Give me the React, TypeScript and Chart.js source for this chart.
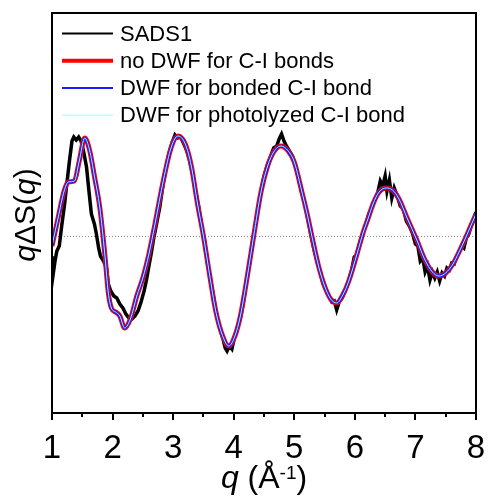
import React, { useEffect, useRef } from 'react';
import { Chart, registerables } from 'chart.js';

Chart.register(...registerables);

const xTickValues = [1, 2, 3, 4, 5, 6, 7, 8];

const legendLabels = [
  'SADS1',
  'no DWF for C-I bonds',
  'DWF for bonded C-I bond',
  'DWF for photolyzed C-I bond',
];

// Measured SADS1 (noisy)
const sadsQ = [
  1.00, 1.02, 1.05, 1.08, 1.12, 1.16, 1.21, 1.25, 1.29, 1.33, 1.36, 1.40, 1.44, 1.48, 1.52, 1.57,
  1.61, 1.65, 1.70, 1.73, 1.77, 1.80, 1.85, 1.90, 1.93, 1.97, 2.02, 2.07, 2.12, 2.17, 2.22, 2.27,
  2.32, 2.37, 2.42, 2.47, 2.52, 2.56, 2.60, 2.64, 2.68, 2.72, 2.78, 2.83, 2.88, 2.93, 2.98, 3.03,
  3.07, 3.12, 3.17, 3.22, 3.27, 3.32, 3.37, 3.42, 3.47, 3.52, 3.57, 3.62, 3.67, 3.72, 3.77, 3.82,
  3.86, 3.89, 3.93, 3.97, 4.01, 4.06, 4.11, 4.16, 4.21, 4.26, 4.31, 4.36, 4.41, 4.46, 4.51, 4.56,
  4.61, 4.66, 4.71, 4.75, 4.79, 4.83, 4.87, 4.92, 4.97, 5.02, 5.07, 5.12, 5.17, 5.22, 5.27, 5.32,
  5.37, 5.42, 5.47, 5.52, 5.57, 5.62, 5.66, 5.70, 5.74, 5.79, 5.84, 5.89, 5.94, 5.99, 6.03, 6.08,
  6.13, 6.18, 6.23, 6.28, 6.33, 6.38, 6.42, 6.46, 6.50, 6.53, 6.57, 6.61, 6.65, 6.70, 6.75, 6.80,
  6.85, 6.90, 6.95, 7.00, 7.04, 7.08, 7.12, 7.16, 7.20, 7.24, 7.28, 7.32, 7.36, 7.40, 7.44, 7.48,
  7.52, 7.56, 7.60, 7.64, 7.68, 7.72, 7.76, 7.80, 7.84, 7.88, 7.92, 7.96, 8.00,
];
const sadsVal = [
  -0.20, -0.38, -0.25, -0.15, -0.10, 0.10, 0.33, 0.55, 0.76, 0.95, 0.99, 0.96, 0.99, 0.95, 0.85, 0.69,
  0.45, 0.22, 0.12, 0.03, -0.12, -0.20, -0.25, -0.32, -0.48, -0.55, -0.60, -0.62, -0.68, -0.72, -0.78, -0.82,
  -0.83, -0.80, -0.75, -0.66, -0.55, -0.44, -0.30, -0.17, -0.02, 0.10, 0.29, 0.50, 0.68, 0.82, 0.93, 1.01,
  0.98, 0.99, 0.93, 0.86, 0.76, 0.62, 0.45, 0.30, 0.10, -0.05, -0.28, -0.45, -0.62, -0.80, -0.92, -1.02,
  -1.12, -1.15, -1.10, -1.13, -1.02, -0.92, -0.82, -0.66, -0.45, -0.28, -0.06, 0.12, 0.30, 0.48, 0.62, 0.72,
  0.80, 0.88, 0.90, 0.97, 1.02, 0.95, 0.90, 0.85, 0.80, 0.70, 0.58, 0.44, 0.34, 0.18, 0.02, -0.12,
  -0.24, -0.34, -0.47, -0.54, -0.60, -0.66, -0.65, -0.74, -0.66, -0.62, -0.55, -0.46, -0.36, -0.21, -0.19, -0.07,
  0.02, 0.12, 0.22, 0.28, 0.36, 0.44, 0.55, 0.50, 0.60, 0.45, 0.56, 0.38, 0.48, 0.40, 0.30, 0.27,
  0.15, 0.10, 0.03, -0.08, -0.10, -0.25, -0.22, -0.36, -0.30, -0.44, -0.36, -0.42, -0.36, -0.45, -0.37, -0.40,
  -0.32, -0.34, -0.27, -0.28, -0.20, -0.17, -0.10, -0.12, -0.02, 0.02, 0.10, 0.16, 0.24,
];

// Fits
const fitQ = [
  1.00, 1.10, 1.20, 1.27, 1.37, 1.45, 1.54, 1.62, 1.70, 1.79, 1.87, 1.93, 1.98, 2.05, 2.12, 2.20,
  2.30, 2.40, 2.50, 2.60, 2.70, 2.84, 2.97, 3.08, 3.20, 3.30, 3.40, 3.50, 3.60, 3.70, 3.80, 3.92,
  4.02, 4.11, 4.22, 4.33, 4.45, 4.56, 4.66, 4.78, 4.90, 5.00, 5.13, 5.22, 5.29, 5.40, 5.50, 5.60,
  5.70, 5.80, 5.90, 6.04, 6.14, 6.21, 6.30, 6.40, 6.52, 6.62, 6.72, 6.87, 7.03, 7.15, 7.28, 7.39,
  7.50, 7.62, 7.72, 7.82, 7.92, 8.00,
];
const noDwfVal = [
  -0.10, 0.18, 0.45, 0.54, 0.55, 0.75, 0.98, 0.86, 0.60, 0.28, -0.17, -0.57, -0.72, -0.76, -0.80, -0.92,
  -0.82, -0.60, -0.42, -0.18, 0.12, 0.56, 0.89, 1.00, 0.92, 0.70, 0.33, 0.00, -0.38, -0.74, -0.97, -1.10,
  -1.00, -0.80, -0.42, 0.00, 0.44, 0.70, 0.84, 0.90, 0.85, 0.74, 0.43, 0.20, 0.00, -0.30, -0.50, -0.63,
  -0.67, -0.59, -0.45, -0.17, 0.04, 0.16, 0.32, 0.44, 0.48, 0.46, 0.38, 0.17, -0.05, -0.23, -0.36, -0.40,
  -0.37, -0.28, -0.16, -0.03, 0.11, 0.22,
];
const bondedVal = [
  -0.10, 0.18, 0.45, 0.54, 0.55, 0.75, 0.98, 0.86, 0.60, 0.28, -0.17, -0.57, -0.72, -0.76, -0.80, -0.92,
  -0.82, -0.60, -0.42, -0.18, 0.12, 0.56, 0.89, 1.00, 0.92, 0.70, 0.33, 0.00, -0.38, -0.74, -0.97, -1.10,
  -1.00, -0.80, -0.42, 0.00, 0.44, 0.70, 0.84, 0.90, 0.85, 0.74, 0.43, 0.20, 0.00, -0.30, -0.50, -0.63,
  -0.67, -0.59, -0.45, -0.17, 0.04, 0.16, 0.32, 0.44, 0.48, 0.46, 0.38, 0.17, -0.05, -0.23, -0.36, -0.40,
  -0.37, -0.28, -0.16, -0.03, 0.11, 0.22,
];
const photolyzedVal = [
  -0.10, 0.18, 0.45, 0.54, 0.55, 0.75, 0.98, 0.86, 0.60, 0.28, -0.17, -0.57, -0.72, -0.76, -0.80, -0.92,
  -0.82, -0.60, -0.42, -0.18, 0.12, 0.56, 0.89, 1.00, 0.92, 0.70, 0.33, 0.00, -0.38, -0.74, -0.97, -1.10,
  -1.00, -0.80, -0.42, 0.00, 0.44, 0.70, 0.84, 0.90, 0.85, 0.74, 0.43, 0.20, 0.00, -0.30, -0.50, -0.63,
  -0.67, -0.59, -0.45, -0.17, 0.04, 0.16, 0.32, 0.44, 0.48, 0.46, 0.38, 0.17, -0.05, -0.23, -0.36, -0.40,
  -0.37, -0.28, -0.16, -0.03, 0.11, 0.22,
];

const FONT = '"Liberation Sans", Arial, Helvetica, sans-serif';

const pairs = (xs: number[], ys: number[]) => xs.map((x, i) => ({ x, y: ys[i] }));

const decorPlugin = {
  id: 'decor',
  beforeDatasetsDraw(chart: any) {
    const { ctx, chartArea: a, scales } = chart;
    const y0 = scales.y.getPixelForValue(0);
    ctx.save();
    ctx.strokeStyle = '#8c8c8c';
    ctx.lineWidth = 1;
    ctx.setLineDash([1, 2]);
    ctx.beginPath();
    ctx.moveTo(a.left, y0 + 0.5);
    ctx.lineTo(a.right, y0 + 0.5);
    ctx.stroke();
    ctx.restore();
  },
  afterDraw(chart: any) {
    const { ctx, chartArea: a, scales } = chart;
    ctx.save();
    // frame
    ctx.strokeStyle = '#000';
    ctx.lineWidth = 2;
    ctx.strokeRect(a.left, a.top, a.right - a.left, a.bottom - a.top);
    // x ticks (major + minor), outward
    const xs = scales.x;
    for (let v = xs.min; v <= xs.max + 1e-9; v += 0.5) {
      const px = Math.round(xs.getPixelForValue(v));
      const major = Math.abs(v - Math.round(v)) < 1e-6;
      ctx.beginPath();
      ctx.moveTo(px, a.bottom);
      ctx.lineTo(px, a.bottom + (major ? 7 : 4));
      ctx.stroke();
    }
    // legend
    const ds = chart.data.datasets;
    const legendWidths = [2, 4, 2, 1];
    ctx.font = `22px ${FONT}`;
    ctx.textBaseline = 'middle';
    ctx.textAlign = 'left';
    ds.forEach((d: any, i: number) => {
      const yy = 33.5 + i * 27.2;
      ctx.strokeStyle = d.borderColor;
      ctx.lineWidth = legendWidths[i];
      ctx.beginPath();
      ctx.moveTo(62, yy);
      ctx.lineTo(113, yy);
      ctx.stroke();
      ctx.fillStyle = '#000';
      ctx.fillText(d.label, 120, yy + 1);
    });
    // x title: q (Å^-1)
    ctx.fillStyle = '#000';
    ctx.textBaseline = 'alphabetic';
    const big = 32;
    const sup = 19;
    const parts: [string, string, number][] = [
      ['q', `italic ${big}px ${FONT}`, 0],
      [' (Å', `${big}px ${FONT}`, 0],
      ['-1', `${sup}px ${FONT}`, -9],
      [')', `${big}px ${FONT}`, 0],
    ];
    let total = 0;
    parts.forEach(([t, f]) => { ctx.font = f; total += ctx.measureText(t).width; });
    let x = (a.left + a.right) / 2 - total / 2;
    const base = 488;
    parts.forEach(([t, f, dy]) => {
      ctx.font = f;
      ctx.fillText(t, x, base + dy);
      x += ctx.measureText(t).width;
    });
    // y title: qΔS(q)
    const yParts: [string, string][] = [
      ['q', `italic 30px ${FONT}`],
      ['ΔS(', `30px ${FONT}`],
      ['q', `italic 30px ${FONT}`],
      [')', `30px ${FONT}`],
    ];
    let ytot = 0;
    yParts.forEach(([t, f]) => { ctx.font = f; ytot += ctx.measureText(t).width; });
    ctx.translate(35, 215);
    ctx.rotate(-Math.PI / 2);
    let yx = -ytot / 2;
    yParts.forEach(([t, f]) => {
      ctx.font = f;
      ctx.fillText(t, yx, 0);
      yx += ctx.measureText(t).width;
    });
    ctx.restore();
  },
};

export default function App() {
  const canvasRef = useRef<HTMLCanvasElement | null>(null);

  useEffect(() => {
    if (!canvasRef.current) return;
    const chart = new Chart(canvasRef.current, {
      type: 'line',
      data: {
        datasets: [
          {
            label: legendLabels[0],
            data: pairs(sadsQ, sadsVal),
            borderColor: '#000000',
            borderWidth: 3.5,
            pointRadius: 0,
            tension: 0,
            order: 4,
          },
          {
            label: legendLabels[1],
            data: pairs(fitQ, noDwfVal),
            borderColor: '#ff0000',
            borderWidth: 5,
            pointRadius: 0,
            cubicInterpolationMode: 'monotone',
            order: 3,
          },
          {
            label: legendLabels[2],
            data: pairs(fitQ, bondedVal),
            borderColor: '#1a1aff',
            borderWidth: 3,
            pointRadius: 0,
            cubicInterpolationMode: 'monotone',
            order: 2,
          },
          {
            label: legendLabels[3],
            data: pairs(fitQ, photolyzedVal),
            borderColor: '#a8f4f4',
            borderWidth: 1,
            pointRadius: 0,
            cubicInterpolationMode: 'monotone',
            order: 1,
          },
        ] as any,
      },
      options: {
        animation: false,
        responsive: false,
        maintainAspectRatio: false,
        layout: { padding: { left: 52, top: 13, right: 12, bottom: 0 } },
        plugins: { legend: { display: false }, tooltip: { enabled: false } },
        scales: {
          x: {
            type: 'linear',
            min: 1,
            max: 8,
            afterFit: (s: any) => { s.height = 88; s.paddingLeft = 0; s.paddingRight = 0; },
            afterBuildTicks: (s: any) => { s.ticks = xTickValues.map((v) => ({ value: v })); },
            grid: { display: false },
            border: { display: false },
            ticks: {
              color: '#000',
              font: { family: FONT, size: 33 },
              padding: 8,
              maxRotation: 0,
              autoSkip: false,
            },
          },
          y: {
            display: false,
            min: -1.77,
            max: 2.23,
          },
        },
      } as any,
      plugins: [decorPlugin],
    });
    return () => chart.destroy();
  }, []);

  return (
    <div style={{ position: 'fixed', left: 0, top: 0, width: 488, height: 501, background: '#fff' }}>
      <canvas ref={canvasRef} width={488} height={501} style={{ width: 488, height: 501 }} />
    </div>
  );
}
